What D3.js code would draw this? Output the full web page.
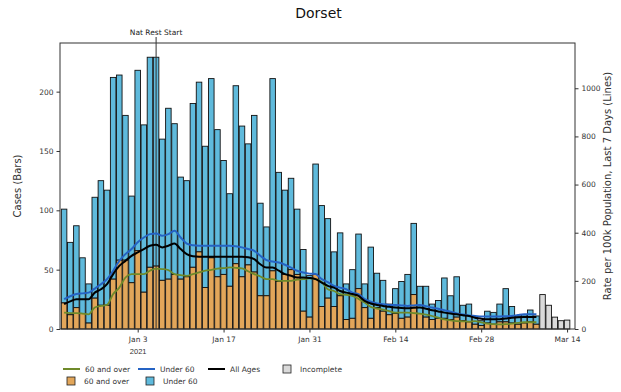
<!DOCTYPE html>
<html><head><meta charset="utf-8">
<script src="https://cdn.jsdelivr.net/npm/d3@7"></script>
<style>body{margin:0;background:#fff}svg{display:block;font-family:"DejaVu Sans",sans-serif}</style>
</head><body><svg id="c" width="621" height="392"></svg>
<script>
// ---- data ----
const title = "Dorset";
const firstDay = "2020-12-22";
const over60Cases = [22,12,18,13,5,26,20,20,42,58,58,39,66,31,52,53,41,42,46,42,44,52,65,35,60,44,46,36,55,44,54,48,28,28,49,40,46,50,46,15,10,46,19,26,19,28,8,9,34,18,9,18,15,12,13,9,10,29,13,10,8,9,9,8,10,7,6,4,3,5,4,6,6,5,4,5,6,4];
const under60Cases = [79,61,69,47,33,85,105,97,170,156,122,73,152,141,177,176,119,144,127,86,81,138,143,119,151,124,96,78,150,127,102,132,78,58,162,92,71,77,55,52,35,93,85,67,46,53,30,41,46,20,60,29,26,9,21,31,36,60,23,26,13,15,34,20,34,13,15,6,4,10,10,15,28,14,7,7,10,7];
const incompleteFirstDay = "2021-03-10";
const incompleteCases = [29,20,10,7,7.5];
const rateAllAges = [103,115,124,124,124,151,165,186,228,262,283,304,318,332,346,350,339,346,355,332,311,302,300,300,300,300,300,300,300,300,298,290,269,255,255,242,228,221,214,214,212,207,193,179,172,158,151,145,138,117,106,100,96,92,89,87,86,88,89,84,78,73,68,64,61,57,54,47,43,40,40,41,44,47,49,50,50,50];
const rateUnder60 = [124,136,145,148,151,168,186,207,242,283,311,332,360,380,394,397,387,394,408,380,355,348,346,346,346,346,346,346,344,339,332,325,304,286,280,276,267,255,242,235,230,228,207,195,179,172,165,151,145,124,113,106,103,100,100,98,96,98,100,95,89,84,78,72,65,60,56,54,52,52,52,52,53,54,58,61,61,61];
const rate60Over = [68,66,66,64,61,89,96,100,145,172,214,228,228,228,242,251,249,245,228,224,221,228,235,242,246,251,253,256,254,252,240,228,218,207,207,200,200,200,205,207,210,207,195,165,158,145,142,138,125,110,92,85,80,74,68,68,68,66,64,60,54,47,40,36,33,32,31,33,28,22,20,19,20,22,25,28,28,28];
const xTickDates = ["2021-01-03","2021-01-17","2021-01-31","2021-02-14","2021-02-28","2021-03-14"];
const xTickLabels = ["Jan 3","Jan 17","Jan 31","Feb 14","Feb 28","Mar 14"];
const leftTicks = [0,50,100,150,200];
const rightTicks = [0,200,400,600,800,1000];
const natRestDate = "2021-01-06";
const natRestLabel = "Nat Rest Start";

// ---- setup ----
const svg = d3.select("#c");
const W = 621, H = 392;
const m = {l:60, r:46, t:43, b:63};
const pw = W - m.l - m.r, ph = H - m.t - m.b;
const day = d => d3.utcDay.offset(new Date(firstDay + "T00:00:00Z"), d);
const x = d3.scaleUtc()
  .domain([d3.utcHour.offset(new Date(firstDay+"T00:00:00Z"), -16), d3.utcHour.offset(new Date("2021-03-14T00:00:00Z"), 31)])
  .range([m.l, m.l + pw]);
const yL = d3.scaleLinear().domain([0, 241]).range([m.t + ph, m.t]);
const yR = d3.scaleLinear().domain([0, 1188]).range([m.t + ph, m.t]);
const dayW = x(day(1)) - x(day(0));
const bw = dayW * 0.9;

const COL_O = "#e2a65a", COL_U = "#5fbadc", COL_INC = "#dadada";
const LINE_O = "#6f8a2a", LINE_U = "#2563c4", LINE_A = "#000";

// bars
const g = svg.append("g");
const bars = over60Cases.map((o,i)=>({d:day(i), o, u:under60Cases[i]}));
g.selectAll("rect.u").data(bars).join("rect")
  .attr("x", d=>x(d.d)-bw/2).attr("width", bw)
  .attr("y", d=>yL(d.o+d.u)).attr("height", d=>yL(d.o)-yL(d.o+d.u))
  .attr("fill", COL_U).attr("stroke","#111").attr("stroke-width",0.9);
g.selectAll("rect.o").data(bars).join("rect")
  .attr("x", d=>x(d.d)-bw/2).attr("width", bw)
  .attr("y", d=>yL(d.o)).attr("height", d=>yL(0)-yL(d.o))
  .attr("fill", COL_O).attr("stroke","#111").attr("stroke-width",0.9);
const incStart = new Date(incompleteFirstDay+"T00:00:00Z");
g.selectAll("rect.i").data(incompleteCases).join("rect")
  .attr("x", (v,i)=>x(d3.utcDay.offset(incStart,i))-bw/2).attr("width", bw)
  .attr("y", v=>yL(v)).attr("height", v=>yL(0)-yL(v))
  .attr("fill", COL_INC).attr("stroke","#111").attr("stroke-width",0.9);

// nat rest line
const nx = x(new Date(natRestDate+"T00:00:00Z"));
svg.append("line").attr("x1",nx).attr("x2",nx).attr("y1",m.t-6).attr("y2",m.t+ph)
  .attr("stroke","#333").attr("stroke-width",1);
svg.append("text").attr("x",nx).attr("y",m.t-8).attr("text-anchor","middle")
  .attr("font-size",7.5).attr("fill","#222").text(natRestLabel);

// lines
const lineGen = d3.line().x((v,i)=>x(day(i))).y(v=>yR(v)).curve(d3.curveMonotoneX);
[[rate60Over, LINE_O, 1.8],[rateUnder60, LINE_U, 2],[rateAllAges, LINE_A, 2]].forEach(([arr,c,w])=>{
  svg.append("path").attr("d", lineGen(arr)).attr("fill","none").attr("stroke",c).attr("stroke-width",w);
});

// frame
svg.append("rect").attr("x",m.l).attr("y",m.t).attr("width",pw).attr("height",ph)
  .attr("fill","none").attr("stroke","#333").attr("stroke-width",1);

// axes
const fs = 7.5;
const axL = svg.append("g").attr("transform",`translate(${m.l},0)`)
  .call(d3.axisLeft(yL).tickValues(leftTicks).tickSize(3.5).tickPadding(3).tickFormat(d3.format("d")));
const axR = svg.append("g").attr("transform",`translate(${m.l+pw},0)`)
  .call(d3.axisRight(yR).tickValues(rightTicks).tickSize(3.5).tickPadding(3).tickFormat(d3.format("d")));
const axB = svg.append("g").attr("transform",`translate(0,${m.t+ph})`)
  .call(d3.axisBottom(x).tickValues(xTickDates.map(s=>new Date(s+"T00:00:00Z"))).tickSize(3.5).tickPadding(4)
    .tickFormat((d,i)=>xTickLabels[i]));
[axL,axR,axB].forEach(a=>{
  a.select(".domain").remove();
  a.selectAll("text").attr("font-size",fs).attr("fill","#333").attr("font-family","DejaVu Sans");
  a.selectAll("line").attr("stroke","#333");
});
axB.selectAll(".tick").filter((d,i)=>i===0).append("text")
  .attr("y", 20).attr("dy","0.71em").attr("text-anchor","middle")
  .attr("font-size",fs).attr("fill","#333").text("2021");

// titles
svg.append("text").attr("x",(m.l + m.l+pw)/2 + 1).attr("y",18).attr("text-anchor","middle")
  .attr("font-size",14).attr("fill","#111").text(title);
svg.append("text").attr("transform",`translate(21,${m.t+ph/2}) rotate(-90)`).attr("text-anchor","middle")
  .attr("font-size",10).attr("fill","#333").text("Cases (Bars)");
svg.append("text").attr("transform",`translate(611,${m.t+ph/2}) rotate(-90)`).attr("text-anchor","middle")
  .attr("font-size",10).attr("fill","#333").text("Rate per 100k Population, Last 7 Days (Lines)");

// legend
const lg = svg.append("g").attr("font-size",7.5).attr("fill","#333");
const row1 = 369, row2 = 381;
const lineItems = [["60 and over", LINE_O, 63],["Under 60", LINE_U, 138],["All Ages", LINE_A, 208]];
lineItems.forEach(([t,c,x0])=>{
  lg.append("line").attr("x1",x0).attr("x2",x0+17).attr("y1",row1).attr("y2",row1).attr("stroke",c).attr("stroke-width",2);
  lg.append("text").attr("x",x0+22).attr("y",row1).attr("dy","0.35em").text(t);
});
const boxItems = [["Incomplete", COL_INC, 283, row1],["60 and over", COL_O, 67, row2],["Under 60", COL_U, 146, row2]];
boxItems.forEach(([t,c,x0,yy])=>{
  lg.append("rect").attr("x",x0).attr("y",yy-4).attr("width",8).attr("height",8).attr("fill",c).attr("stroke","#222").attr("stroke-width",0.8);
  lg.append("text").attr("x",x0+17).attr("y",yy).attr("dy","0.35em").text(t);
});
</script></body></html>
